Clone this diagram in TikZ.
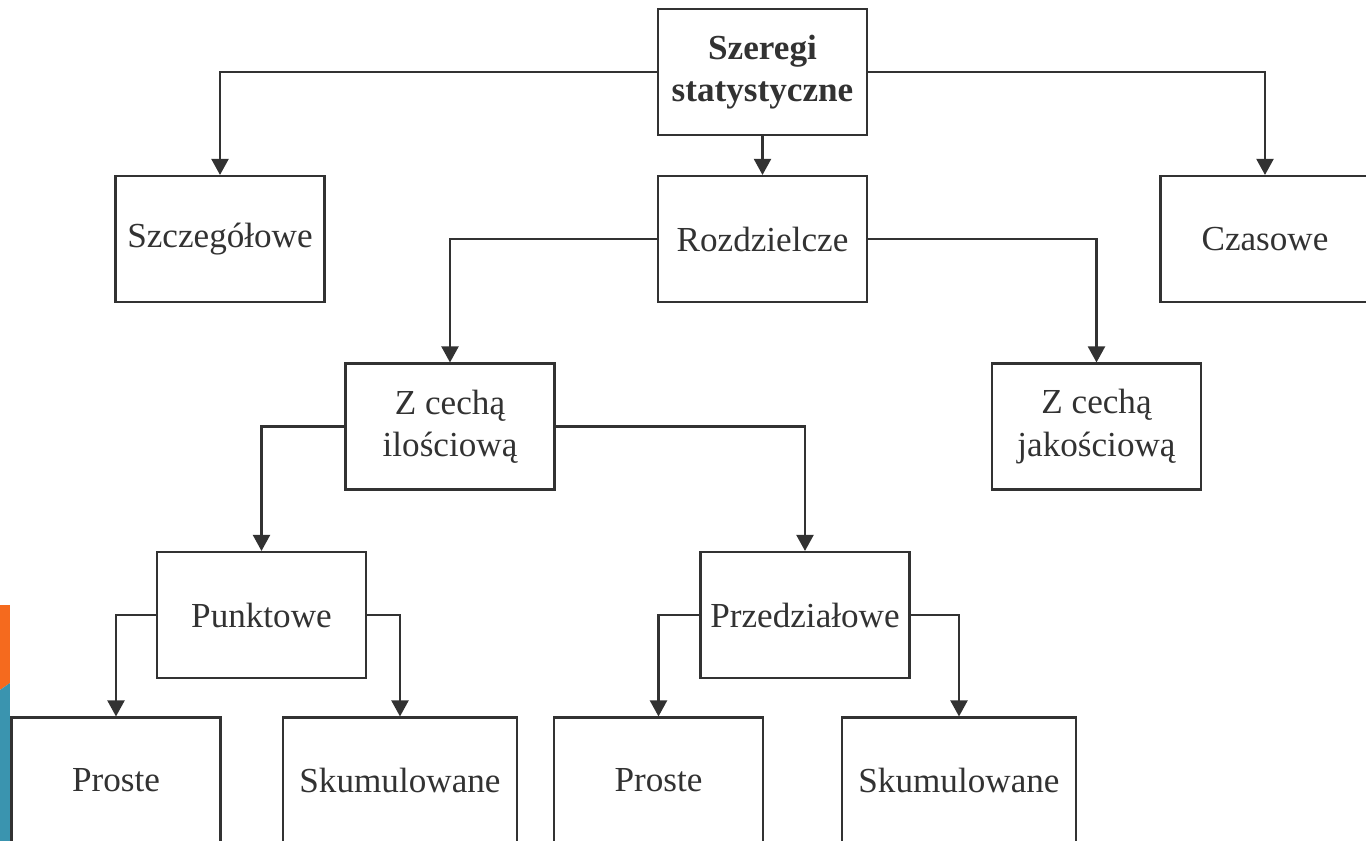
\documentclass[tikz,border=0pt]{standalone}
\usepackage{fontspec}
\setmainfont{Liberation Serif}
\usepackage{tikz}
\usetikzlibrary{arrows.meta}

\definecolor{linea}{RGB}{50,50,50}
\definecolor{naranja}{RGB}{245,106,30}
\definecolor{azul}{RGB}{58,148,175}

\begin{document}
\begin{tikzpicture}[every node/.style={draw=linea, line width=1.2pt, rectangle, minimum width=4.18cm, minimum height=2.52cm, align=center, text=linea, font=\fontsize{20}{24}\selectfont}]
            \useasboundingbox (0,0) rectangle (27.32,-16.82);
            % Barra
            \fill[naranja] (0,-12.10) -- (0.20,-12.10) -- (0.20,-13.66) -- (0,-13.80) -- cycle;
            \fill[azul] (0,-13.80) -- (0.20,-13.66) -- (0.20,-16.82) -- (0,-16.82) -- cycle;

            % Nodos
            \node[font=\fontsize{20}{24}\selectfont\bfseries] (szeregi) at (15.25,-1.44) {Szeregi\\statystyczne};
            \node (szczegolowe) at (4.40,-4.78) {Szczegółowe};
            \node (rozdzielcze) at (15.25,-4.78) {Rozdzielcze};
            \node (czasowe) at (25.30,-4.78) {Czasowe};
            \node (ilosciowa) at (9.00,-8.53) {Z cechą\\ilościową};
            \node (jakosciowa) at (21.93,-8.53) {Z cechą\\jakościową};
            \node (punktowe) at (5.23,-12.30) {Punktowe};
            \node (przedzialowe) at (16.10,-12.30) {Przedziałowe};
            \node (proste) at (2.32,-15.61) {Proste};
            \node[minimum width=4.68cm] (skumulowane) at (8.00,-15.61) {Skumulowane};
            \node (proste2) at (13.17,-15.61) {Proste};
            \node[minimum width=4.68cm] (skumulowane2) at (19.18,-15.61) {Skumulowane};

            % Aristas
            \draw[-{Triangle[length=0.32cm, width=0.34cm]}, line width=1.2pt, linea] (szeregi.west) -| (szczegolowe.north);
            \draw[-{Triangle[length=0.32cm, width=0.34cm]}, line width=1.2pt, linea] (szeregi.south) -- (rozdzielcze.north);
            \draw[-{Triangle[length=0.32cm, width=0.34cm]}, line width=1.2pt, linea] (szeregi.east) -| (czasowe.north);
            \draw[-{Triangle[length=0.32cm, width=0.34cm]}, line width=1.2pt, linea] (rozdzielcze.west) -| (ilosciowa.north);
            \draw[-{Triangle[length=0.32cm, width=0.34cm]}, line width=1.2pt, linea] (rozdzielcze.east) -| (jakosciowa.north);
            \draw[-{Triangle[length=0.32cm, width=0.34cm]}, line width=1.2pt, linea] (ilosciowa.west) -| (punktowe.north);
            \draw[-{Triangle[length=0.32cm, width=0.34cm]}, line width=1.2pt, linea] (ilosciowa.east) -| (przedzialowe.north);
            \draw[-{Triangle[length=0.32cm, width=0.34cm]}, line width=1.2pt, linea] (punktowe.west) -| (proste.north);
            \draw[-{Triangle[length=0.32cm, width=0.34cm]}, line width=1.2pt, linea] (punktowe.east) -| (skumulowane.north);
            \draw[-{Triangle[length=0.32cm, width=0.34cm]}, line width=1.2pt, linea] (przedzialowe.west) -| (proste2.north);
            \draw[-{Triangle[length=0.32cm, width=0.34cm]}, line width=1.2pt, linea] (przedzialowe.east) -| (skumulowane2.north);
          \end{tikzpicture}
\end{document}
